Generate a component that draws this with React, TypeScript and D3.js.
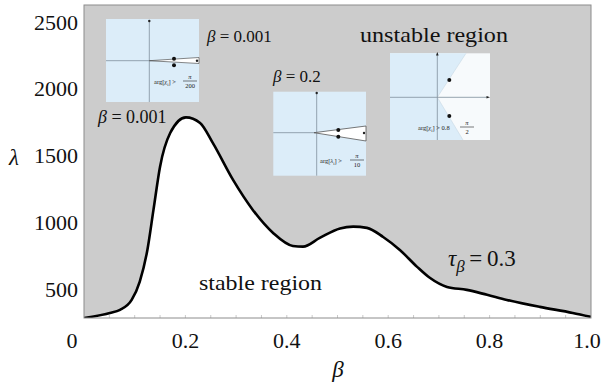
import React from 'react';
import * as d3 from 'd3';

// data
const betaValues = [0, 0.051, 0.071, 0.094, 0.11, 0.125, 0.137, 0.15, 0.17, 0.201, 0.229, 0.254, 0.294, 0.333, 0.373, 0.412, 0.432, 0.465, 0.505, 0.531, 0.558, 0.59, 0.623, 0.657, 0.682, 0.716, 0.755, 0.795, 0.834, 0.899, 0.964, 1.0];
const lambdaValues = [290, 328, 351, 425, 562, 798, 1097, 1420, 1671, 1788, 1746, 1597, 1321, 1097, 925, 828, 823, 888, 959, 972, 963, 895, 798, 672, 590, 522, 500, 463, 425, 373, 328, 298];
const xTicks = [0, 0.2, 0.4, 0.6, 0.8, 1.0];
const xTickLabels = ['0', '0.2', '0.4', '0.6', '0.8', '1.0'];
const xMinorTicks = d3.range(0.05, 1.0, 0.05);
const yTicks = [500, 1000, 1500, 2000, 2500];

const SERIF = "'Liberation Serif', 'Times New Roman', 'DejaVu Serif', serif";
const ff = { fontFamily: SERIF };

function Frac({ x, y, num, den }: { x: number; y: number; num: string; den: string }) {
  return (
    <g>
      <text x={x} y={y - 2} fontSize={6.5} fontStyle="italic" textAnchor="middle" style={ff} fill="#222">{num}</text>
      <line x1={x - 7} x2={x + 7} y1={y} y2={y} stroke="#222" strokeWidth={0.6} />
      <text x={x} y={y + 7} fontSize={6.5} textAnchor="middle" style={ff} fill="#222">{den}</text>
    </g>
  );
}

export default function App() {
  const W = 605, H = 384;
  const left = 84, right = 591, top = 5, bottom = 318;
  const x = d3.scaleLinear().domain([0, 1]).range([left, right]);
  const y = d3.scaleLinear().domain([290, 2627]).range([bottom, top]);
  const pts: [number, number][] = betaValues.map((b, i) => [b, lambdaValues[i]]);
  const line = d3.line<[number, number]>().x(d => x(d[0])).y(d => y(d[1])).curve(d3.curveMonotoneX);
  const area = d3.area<[number, number]>().x(d => x(d[0])).y0(bottom).y1(d => y(d[1])).curve(d3.curveMonotoneX);
  const blue = '#dcedf9';
  const axisC = '#8a9aa6';

  return (
    <svg width={W} height={H} style={{ position: 'absolute', left: 0, top: 0, fontFamily: SERIF }}>
      <rect x={0} y={0} width={W} height={H} fill="#fff" />
      <defs>
        <clipPath id="plot"><rect x={left} y={top} width={right - left} height={bottom - top} /></clipPath>
      </defs>
      <rect x={left} y={top} width={right - left} height={bottom - top} fill="#cccccc" />
      <g clipPath="url(#plot)">
        <path d={area(pts) || ''} fill="#ffffff" />
        <path d={line(pts) || ''} fill="none" stroke="#000" strokeWidth={2.6} />
      </g>
      {xMinorTicks.map(t => (
        <line key={t} x1={x(t)} x2={x(t)} y1={bottom} y2={bottom - 3} stroke="#bbb" strokeWidth={0.8} />
      ))}
      <rect x={left} y={top} width={right - left} height={bottom - top} fill="none" stroke="#8c8c8c" strokeWidth={1} />
      {xTicks.map((t, i) => (
        <text key={t} x={i === 0 ? 72 : x(t) - (i === xTicks.length - 1 ? 4 : 0)} y={348} fontSize={22} textAnchor="middle" fill="#111" style={ff}>{xTickLabels[i]}</text>
      ))}
      {yTicks.map(t => (
        <text key={t} x={78} y={y(t) + 7.5} fontSize={22} textAnchor="end" fill="#111" style={ff}>{t}</text>
      ))}
      <text x={14} y={165} fontSize={23} fontStyle="italic" textAnchor="middle" fill="#111" style={ff}>λ</text>
      <text x={338} y={377} fontSize={23} fontStyle="italic" textAnchor="middle" fill="#111" style={ff}>β</text>

      {/* Inset 1 */}
      <g>
        <rect x={106} y={19} width={93} height={83} fill={blue} />
        <line x1={149.3} x2={149.3} y1={21} y2={102} stroke={axisC} strokeWidth={0.9} />
        <line x1={106} x2={199} y1={60.7} y2={60.7} stroke={axisC} strokeWidth={0.9} />
        <polygon points="149.3,60.7 199,57.5 199,63.5" fill="#fff" stroke="#555" strokeWidth={0.7} />
        <circle cx={149.3} cy={21} r={1.2} fill="#222" />
        <circle cx={197} cy={60.7} r={1.2} fill="#222" />
        <circle cx={174} cy={58.7} r={2} fill="#111" />
        <circle cx={174} cy={65.3} r={2} fill="#111" />
        <text x={154} y={84} fontSize={6.5} fill="#222" style={ff}>arg[<tspan fontStyle="italic">χ</tspan><tspan fontSize={4.5} dy={1.5}>i</tspan><tspan dy={-1.5}>] &gt;</tspan></text>
        <Frac x={190} y={81} num="π" den="200" />
      </g>
      <text x={207} y={42} fontSize={17} fill="#111" style={ff}><tspan fontStyle="italic">β</tspan> = 0.001</text>
      <text x={98} y={123} fontSize={18} fill="#111" style={ff}><tspan fontStyle="italic">β</tspan> = 0.001</text>

      {/* Inset 2 */}
      <text x={273} y={82} fontSize={17} fill="#111" style={ff}><tspan fontStyle="italic">β</tspan> = 0.2</text>
      <g>
        <rect x={273.3} y={91.7} width={92.7} height={84} fill={blue} />
        <line x1={316.7} x2={316.7} y1={93} y2={175.7} stroke={axisC} strokeWidth={0.9} />
        <line x1={273.3} x2={366} y1={132.7} y2={132.7} stroke={axisC} strokeWidth={0.9} />
        <polygon points="314,132.7 366,126 366,141" fill="#fff" stroke="#555" strokeWidth={0.8} />
        <circle cx={316.7} cy={93} r={1.2} fill="#222" />
        <circle cx={364} cy={133} r={1.2} fill="#222" />
        <circle cx={338.3} cy={130} r={2} fill="#111" />
        <circle cx={338.3} cy={136.7} r={2} fill="#111" />
        <text x={320} y={163} fontSize={6.5} fill="#222" style={ff}>arg[<tspan fontStyle="italic">λ</tspan><tspan fontSize={4.5} dy={1.5}>i</tspan><tspan dy={-1.5}>] &gt;</tspan></text>
        <Frac x={357} y={160} num="π" den="10" />
      </g>

      {/* Inset 3 */}
      <text x={360} y={42} fontSize={22} textLength={148} lengthAdjust="spacingAndGlyphs" fill="#111" style={ff}>unstable region</text>
      <g>
        <rect x={390} y={53.3} width={100} height={86.7} fill="#f7fafc" />
        <polygon points="390,53.3 466,53.3 437.3,97.3 463,140 390,140" fill={blue} />
        <line x1={437.3} x2={466} y1={97.3} y2={53.3} stroke="#c8d8e4" strokeWidth={0.6} />
        <line x1={437.3} x2={463} y1={97.3} y2={140} stroke="#c8d8e4" strokeWidth={0.6} />
        <line x1={437.3} x2={437.3} y1={53.3} y2={140} stroke={axisC} strokeWidth={0.9} />
        <line x1={390} x2={488} y1={97.3} y2={97.3} stroke={axisC} strokeWidth={0.9} />
        <polygon points="437.3,52 436,55.5 438.6,55.5" fill="#222" />
        <polygon points="490,97.3 486.5,96 486.5,98.6" fill="#222" />
        <circle cx={449.3} cy={80} r={2} fill="#111" />
        <circle cx={449.3} cy={116} r={2} fill="#111" />
        <text x={418} y={130} fontSize={6.5} fill="#222" style={ff}>arg[<tspan fontStyle="italic">χ</tspan><tspan fontSize={4.5} dy={1.5}>i</tspan><tspan dy={-1.5}>] &gt; 0.8</tspan></text>
        <Frac x={467} y={127} num="π" den="2" />
      </g>

      <text x={199} y={290} fontSize={22} textLength={123} lengthAdjust="spacingAndGlyphs" fill="#111" style={ff}>stable region</text>
      <text x={448} y={266} fontSize={23} fill="#111" style={ff}><tspan fontStyle="italic">τ</tspan><tspan fontStyle="italic" fontSize={17} dy={6}>β</tspan><tspan dy={-6}>{'\u2009=\u20090.3'}</tspan></text>
    </svg>
  );
}
